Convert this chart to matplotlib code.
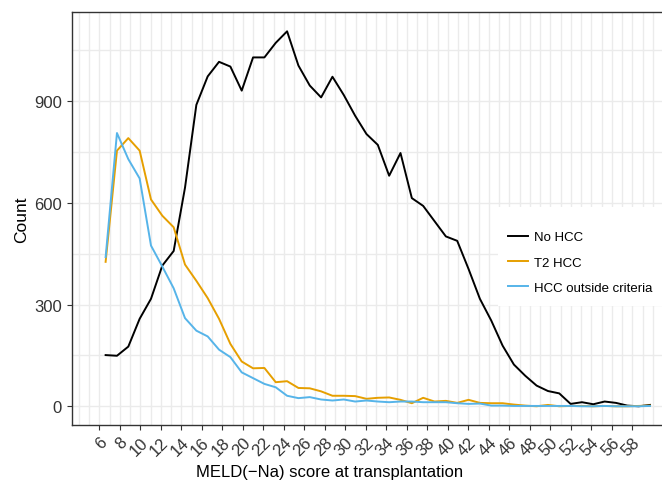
"""
Распределение MELD(-Na) при трансплантации по группам HCC.
"""

import numpy as np
import matplotlib
matplotlib.use("Agg")
import matplotlib.pyplot as plt
from matplotlib.patches import Rectangle
from matplotlib.ticker import MultipleLocator

# центры бинов: первый бин и ширина бина
first_bin = 6.62
bin_width = 1.1065

no_hcc = [151, 149, 176, 258, 317, 415, 458, 645, 889, 973,
          1016, 1002, 931, 1029, 1029, 1072, 1106, 1005, 946, 911,
          972, 918, 857, 803, 771, 680, 747, 614, 591, 546,
          501, 488, 405, 317, 253, 179, 123, 90, 61, 45,
          38, 7, 12, 6, 14, 10, 2, 0, 4]
t2_hcc = [426, 754, 791, 754, 610, 562, 528, 418, 370, 319,
          258, 184, 132, 112, 113, 71, 74, 54, 53, 44,
          31, 31, 30, 22, 25, 26, 19, 9, 25, 14,
          16, 10, 19, 10, 9, 9, 5, 2, 0, 4,
          0, 1, 1, 0, 1, 0, 0, 1, 2]
hcc_outside = [440, 806, 729, 672, 474, 412, 348, 260, 223, 206,
               167, 145, 100, 83, 66, 56, 31, 24, 27, 20,
               17, 20, 14, 17, 14, 12, 14, 14, 12, 12,
               12, 9, 7, 8, 2, 2, 1, 1, 1, 1,
               1, 1, 0, 0, 1, 0, 0, 0, 1]

series_names = ["No HCC", "T2 HCC", "HCC outside criteria"]
series_colors = ["#000000", "#E69F00", "#56B4E9"]
x_ticks = list(range(6, 60, 2))
y_ticks = [0, 300, 600, 900]

plt.rcParams["font.family"] = ["Liberation Sans", "DejaVu Sans"]

W, H = 662, 481
fig = plt.figure(figsize=(W / 100, H / 100), dpi=100)
# панель уходит за правый край картинки, как в исходнике
ax = fig.add_axes([0.1083, 0.115, 0.9248, 0.8573])

x = first_bin + bin_width * np.arange(len(no_hcc))
for values, name, color in zip([no_hcc, t2_hcc, hcc_outside],
                               series_names, series_colors):
    ax.plot(x, values, color=color, lw=1.4, label=name, zorder=3)

ax.set_xlim(3.31, 63.04)
ax.set_ylim(-54.3, 1162)

ax.set_xticks(x_ticks)
ax.set_xticklabels([str(t) for t in x_ticks], rotation=45, ha="right",
                   rotation_mode="anchor", fontsize=12, color="#333333")
ax.xaxis.set_minor_locator(MultipleLocator(1))
ax.set_yticks(y_ticks)
ax.set_yticklabels([str(t) for t in y_ticks], fontsize=12, color="#333333")
ax.yaxis.set_minor_locator(MultipleLocator(150))
ax.tick_params(which="major", length=3.5, width=0.8, color="#333333")
ax.tick_params(which="minor", length=0)

ax.grid(which="both", color="#EBEBEB", lw=1.0, zorder=0)
ax.set_axisbelow(True)
for side in ["left", "bottom", "top", "right"]:
    ax.spines[side].set_color("#333333")
    ax.spines[side].set_linewidth(1.0)

ax.set_xlabel("MELD(\u2212Na) score at transplantation", fontsize=12)
ax.xaxis.set_label_coords(0.422, -0.095)
ax.set_ylabel("Count", fontsize=12.5)
ax.yaxis.set_label_coords(-0.069, 0.5)

# белый фон легенды поверх сетки
fig.patches.append(Rectangle((498 / W, 1 - 307 / H), (W - 498) / W, 99 / H,
                             transform=fig.transFigure, facecolor="white",
                             edgecolor="none", zorder=1))
fig.legend(loc="upper left", bbox_to_anchor=(508 / W, 1 - 232 / H),
           frameon=False, fontsize=9.5, borderpad=0, borderaxespad=0,
           handlelength=1.52, handletextpad=0.45, labelspacing=1.0)

fig.savefig("out.png", dpi=100)
